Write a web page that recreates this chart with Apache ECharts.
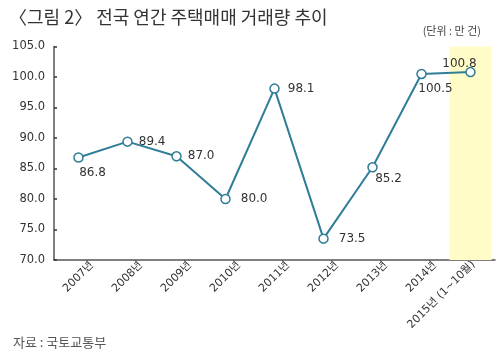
<!DOCTYPE html>
<html><head><meta charset="utf-8">
<script src="https://cdn.jsdelivr.net/npm/echarts@6/dist/echarts.min.js"></script>
<style>html,body{margin:0;padding:0;background:#fff}#c{width:500px;height:356px}</style>
</head><body><div id="c"></div>
<script>
var categories = ['2007년','2008년','2009년','2010년','2011년','2012년','2013년','2014년','2015년 (1~10월)'];
var values = [86.8, 89.4, 87.0, 80.0, 98.1, 73.5, 85.2, 100.5, 100.8];
var highlight = [null, null, null, null, null, null, null, null, 105];
var labelPos = ['bottom','right','right','right','right','right','bottom','bottom','top'];
var titleText = '〈그림 2〉 전국 연간 주택매매 거래량 추이';
var unitText = '(단위 : 만 건)';
var sourceText = '자료 : 국토교통부';
var yMin = 70, yMax = 105, yStep = 5;

var labelOffsets = [[14,-2],[0,0],[0,0],[4,0],[2,0],[4,0],[16,-6],[14,-2],[-11,9]];
var font = '"Noto Sans CJK KR", "Noto Sans", sans-serif';
var numFont = '"DejaVu Sans", sans-serif';
var chart = echarts.init(document.getElementById('c'));
var data = values.map(function(v,i){
  return {value:v, label:{position:labelPos[i], offset:labelOffsets[i]}};
});
chart.setOption({
  animation:false,
  textStyle:{fontFamily:font},
  title:[
    {text:titleText,left:4,top:3,textStyle:{fontSize:18,fontWeight:'normal',color:'#333',fontFamily:font}},
    {text:unitText,right:14,top:20,textStyle:{fontSize:11,fontWeight:'normal',color:'#444',fontFamily:font}},
    {text:sourceText,left:8,top:331,textStyle:{fontSize:13,fontWeight:'normal',color:'#555',fontFamily:font}}
  ],
  grid:{left:54,right:5,top:46.5,bottom:96,containLabel:false},
  xAxis:{type:'category',data:categories,boundaryGap:true,
    axisLine:{lineStyle:{color:'#555',width:1.5}},
    axisTick:{inside:true,length:3,lineStyle:{color:'#333',width:2}},
    axisLabel:{rotate:45,align:'center',verticalAlign:'middle',fontSize:12,color:'#333',margin:17,interval:0,
      fontFamily:'"DejaVu Sans", "Noto Sans CJK KR", sans-serif',
      formatter:function(v,i){ return i===8 ? '{b|'+v+'}' : '{a|'+v+'}'; },
      rich:{a:{fontSize:11,color:'#333'}, b:{fontSize:11,color:'#333',padding:[0,66,16,0]}}},
    splitLine:{show:false}},
  yAxis:{type:'value',min:yMin,max:yMax,interval:yStep,
    axisLine:{show:true,lineStyle:{color:'#555',width:1.5}},
    axisTick:{show:true,inside:true,length:3,lineStyle:{color:'#333',width:1.5}},
    axisLabel:{fontSize:11.5,color:'#333',margin:9,formatter:function(v){return v.toFixed(1);},fontFamily:numFont},
    splitLine:{show:false}},
  series:[{
    type:'bar',data:highlight,barWidth:'86%',silent:true,
    itemStyle:{color:'#fffcc8'},z:1
  },{
    type:'line',data:data,
    symbol:'circle',symbolSize:9,
    lineStyle:{color:'#2f7d96',width:2},
    itemStyle:{color:'#fff',borderColor:'#2f7d96',borderWidth:1.5},
    label:{show:true,fontSize:12,color:'#333',distance:6,formatter:function(p){return p.value.toFixed(1);},fontFamily:numFont},
    z:3
  }]
});
</script></body></html>
